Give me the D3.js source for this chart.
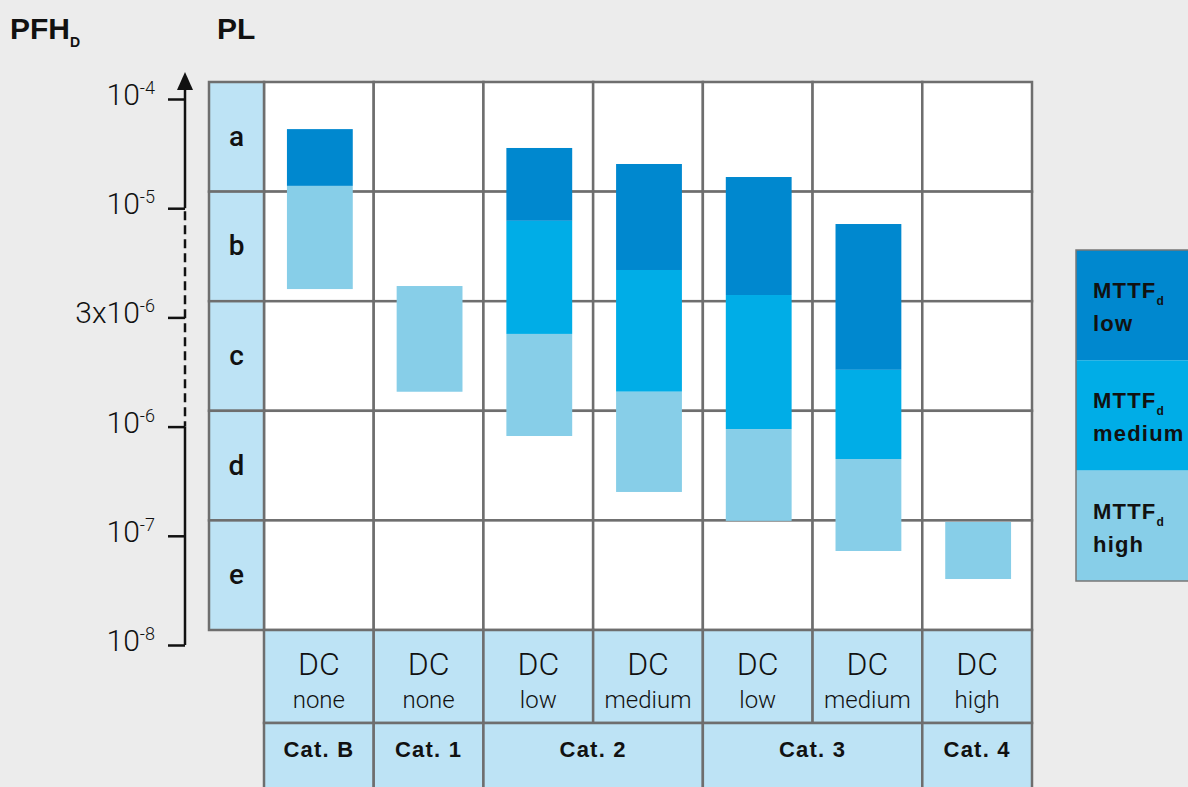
<!DOCTYPE html>
<html>
<head>
<meta charset="utf-8">
<script src="https://cdn.jsdelivr.net/npm/d3@7"></script>
<style>
body { margin: 0; background: #ececec; }
svg text { font-family: Roboto, "Helvetica Neue", Arial, sans-serif; fill: #111; }
svg text.bold { font-family: "Liberation Sans", Arial, sans-serif; font-weight: 700; }
</style>
</head>
<body>
<svg id="chart" width="1188" height="787"></svg>
<script>
// PL rows, DC columns, categories
var levels = ["a", "b", "c", "d", "e"];
var dcLevels = ["none", "none", "low", "medium", "low", "medium", "high"];
var categories = ["Cat. B", "Cat. 1", "Cat. 2", "Cat. 3", "Cat. 4"];
var categorySpans = [1, 1, 2, 2, 1];

// PFHd axis ticks
var tickValues = [1e-4, 1e-5, 3e-6, 1e-6, 1e-7, 1e-8];
var tickMantissa = ["", "", "3x", "", "", ""];
var tickExponents = ["-4", "-5", "-6", "-6", "-7", "-8"];

// bar ranges [upper PFHd, lower PFHd] per column, one array per MTTFd level
var mttfNames = ["low", "medium", "high"];
var mttfLow = [[5.3e-5, 1.6e-5], null, [3.56e-5, 8.7e-6], [2.54e-5, 5.06e-6], [1.93e-5, 3.84e-6], [8.4e-6, 1.77e-6], null];
var mttfMedium = [null, null, [8.7e-6, 2.54e-6], [5.06e-6, 1.42e-6], [3.84e-6, 9.5e-7], [1.77e-6, 5.05e-7], null];
var mttfHigh = [[1.6e-5, 4.1e-6], [4.24e-6, 1.42e-6], [2.54e-6, 8.2e-7], [1.42e-6, 2.52e-7], [9.5e-7, 1.37e-7], [5.05e-7, 7.26e-8], [1.34e-7, 4.02e-8]];

var colors = ["#0088cf", "#00ade7", "#87cee8"],
    cellFill = "#bde3f5",
    gridColor = "#6e6e6e";

var svg = d3.select("#chart");

var gridLeft = 264, gridRight = 1032, gridTop = 82, gridBottom = 630,
    plLeft = 209, dcBottom = 723, catBottom = 800;

var x = d3.scaleBand().domain(d3.range(dcLevels.length)).range([gridLeft, gridRight]);
var row = d3.scaleBand().domain(levels).range([gridTop, gridBottom]);

// axis is uneven: each tick gets the same space (3x10^-6 sits mid-way)
var axisTop = 99, axisStep = 109.2;
var y = d3.scaleLog()
    .domain(tickValues)
    .range(tickValues.map(function(d, i) { return axisTop + i * axisStep; }));

//
// Header
//
var h = svg.append("text").attr("class", "bold").attr("x", 10).attr("y", 39)
    .style("font-size", "30px");
h.append("tspan").text("PFH");
h.append("tspan").attr("dy", 8).style("font-size", "14px").text("D");

svg.append("text").attr("class", "bold").attr("x", 217).attr("y", 39)
    .style("font-size", "30px").text("PL");

//
// Grid
//
var cells = [];
levels.forEach(function(l) {
    d3.range(dcLevels.length).forEach(function(i) { cells.push({ l: l, i: i }); });
});

svg.append("g").selectAll("rect")
    .data(cells)
  .enter().append("rect")
    .attr("x", function(d) { return x(d.i); })
    .attr("y", function(d) { return row(d.l); })
    .attr("width", x.bandwidth())
    .attr("height", row.bandwidth())
    .style("fill", "#fff")
    .style("stroke", gridColor)
    .style("stroke-width", 2.5);

// PL column
var pl = svg.append("g").selectAll("g")
    .data(levels)
  .enter().append("g");
pl.append("rect")
    .attr("x", plLeft)
    .attr("y", function(d) { return row(d); })
    .attr("width", gridLeft - plLeft)
    .attr("height", row.bandwidth())
    .style("fill", cellFill)
    .style("stroke", gridColor)
    .style("stroke-width", 2.5);
pl.append("text")
    .attr("x", (plLeft + gridLeft) / 2)
    .attr("y", function(d) { return row(d) + row.bandwidth() / 2 + 9; })
    .attr("text-anchor", "middle")
    .style("font-size", "28px")
    .style("font-weight", 500)
    .text(function(d) { return d; });

// DC row
var dc = svg.append("g").selectAll("g")
    .data(dcLevels)
  .enter().append("g");
dc.append("rect")
    .attr("x", function(d, i) { return x(i); })
    .attr("y", gridBottom)
    .attr("width", x.bandwidth())
    .attr("height", dcBottom - gridBottom)
    .style("fill", cellFill)
    .style("stroke", gridColor)
    .style("stroke-width", 2.5);
dc.append("text")
    .attr("x", function(d, i) { return x(i) + x.bandwidth() / 2; })
    .attr("y", 675)
    .attr("text-anchor", "middle")
    .style("font-size", "32px")
    .style("font-weight", 300)
    .text("DC");
dc.append("text")
    .attr("x", function(d, i) { return x(i) + x.bandwidth() / 2; })
    .attr("y", 708)
    .attr("text-anchor", "middle")
    .style("font-size", "24px")
    .style("font-weight", 300)
    .text(function(d) { return d; });

// Category row
var start = 0;
var catData = categories.map(function(c, k) {
    var o = { name: c, from: start, span: categorySpans[k] };
    start += categorySpans[k];
    return o;
});
var cat = svg.append("g").selectAll("g")
    .data(catData)
  .enter().append("g");
cat.append("rect")
    .attr("x", function(d) { return x(d.from); })
    .attr("y", dcBottom)
    .attr("width", function(d) { return x.bandwidth() * d.span; })
    .attr("height", catBottom - dcBottom)
    .style("fill", cellFill)
    .style("stroke", gridColor)
    .style("stroke-width", 2.5);
cat.append("text")
    .attr("class", "bold")
    .attr("x", function(d) { return x(d.from) + x.bandwidth() * d.span / 2; })
    .attr("y", 757)
    .attr("text-anchor", "middle")
    .style("font-size", "22px")
    .style("letter-spacing", "1.2px")
    .text(function(d) { return d.name; });

//
// Bars
//
var series = [mttfLow, mttfMedium, mttfHigh];
var barW = x.bandwidth() * 0.6;
series.forEach(function(s, k) {
    svg.append("g").selectAll("rect")
        .data(s.map(function(r, i) { return { r: r, i: i }; }).filter(function(d) { return d.r; }))
      .enter().append("rect")
        .attr("x", function(d) { return x(d.i) + (x.bandwidth() - barW) / 2 + 1; })
        .attr("y", function(d) { return y(d.r[0]); })
        .attr("width", barW)
        .attr("height", function(d) { return y(d.r[1]) - y(d.r[0]); })
        .style("fill", colors[k]);
});

//
// Axis
//
var axisX = 185;
var axis = svg.append("g")
    .attr("transform", "translate(" + axisX + ",0)")
    .call(d3.axisLeft(y).tickValues(tickValues).tickSize(17).tickFormat(""));
axis.select(".domain").remove();
axis.selectAll(".tick line").style("stroke", "#111").style("stroke-width", 2.5);

var lineStyle = function(sel) {
    return sel.attr("x1", axisX).attr("x2", axisX).style("stroke", "#111").style("stroke-width", 2.5);
};
svg.append("line").call(lineStyle).attr("y1", 88).attr("y2", y(1e-5));
svg.append("line").call(lineStyle).attr("y1", y(1e-5) + 3).attr("y2", y(1e-6))
    .style("stroke-dasharray", "9,5");
svg.append("line").call(lineStyle).attr("y1", y(1e-6)).attr("y2", y(1e-8));
svg.append("path")
    .attr("d", "M" + (axisX - 8) + ",90L" + axisX + ",72L" + (axisX + 8) + ",90Z")
    .style("fill", "#111");

var lab = svg.append("g").selectAll("text")
    .data(tickValues)
  .enter().append("text")
    .attr("x", 155)
    .attr("y", function(d) { return y(d) + 6; })
    .attr("text-anchor", "end")
    .style("font-size", "30px")
    .style("font-weight", 300);
lab.append("tspan").text(function(d, i) { return tickMantissa[i] + "10"; });
lab.append("tspan").attr("dy", -11).style("font-size", "18px")
    .text(function(d, i) { return tickExponents[i]; });

//
// Legend
//
var legTop = 250, legH = 110.3, legX = 1076;
var leg = svg.append("g").selectAll("g")
    .data(mttfNames)
  .enter().append("g")
    .attr("transform", function(d, i) { return "translate(" + legX + "," + (legTop + i * legH) + ")"; });
leg.append("rect")
    .attr("width", 140)
    .attr("height", legH)
    .style("fill", function(d, i) { return colors[i]; });
var lt = leg.append("text")
    .attr("class", "bold")
    .attr("x", 17)
    .attr("y", 48)
    .style("font-size", "22px")
    .style("letter-spacing", "1.2px");
lt.append("tspan").text("MTTF");
lt.append("tspan").attr("dy", 7).style("font-size", "12px").text("d");
leg.append("text")
    .attr("class", "bold")
    .attr("x", 17)
    .attr("y", 81)
    .style("font-size", "22px")
    .style("letter-spacing", "1.2px")
    .text(function(d) { return d; });
svg.append("path")
    .attr("d", "M1190," + legTop + "H" + legX + "V" + (legTop + 3 * legH) + "H1190")
    .style("fill", "none")
    .style("stroke", "#777")
    .style("stroke-width", 1.5);
</script>
</body>
</html>
